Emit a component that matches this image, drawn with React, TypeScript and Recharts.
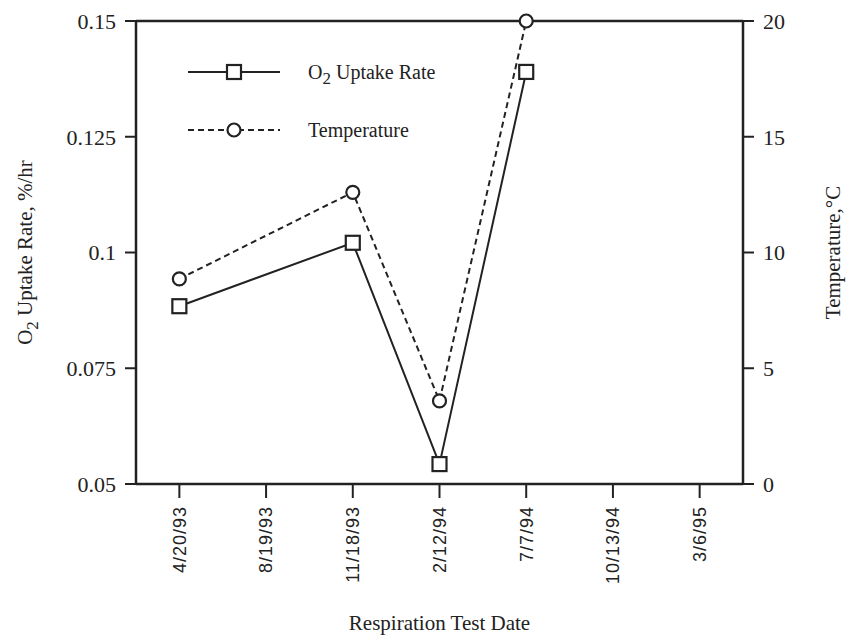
import React from 'react';
import { LineChart, Line, XAxis, YAxis, ReferenceLine, Customized } from 'recharts';

const tickDates = ['4/20/93', '8/19/93', '11/18/93', '2/12/94', '7/7/94', '10/13/94', '3/6/95'];
const sampleDates = ['4/20/93', '11/18/93', '2/12/94', '7/7/94'];
const o2Uptake = [0.0884, 0.1021, 0.0543, 0.139];
const temperature = [8.86, 12.6, 3.59, 20];
const leftTicks = [0.05, 0.075, 0.1, 0.125, 0.15];
const rightTicks = [0, 5, 10, 15, 20];

const data = sampleDates.map((d, i) => ({
  idx: tickDates.indexOf(d),
  date: d,
  o2: o2Uptake[i],
  temp: temperature[i],
}));

const INK = '#222';
const SERIF = '"Liberation Serif", "Times New Roman", serif';
const SANS = '"Liberation Sans", Arial, sans-serif';

const SquareDot = (props: any) => {
  const { cx, cy } = props;
  if (cx == null || cy == null) return null;
  return <rect x={cx - 7} y={cy - 7} width={14} height={14} fill="#fff" stroke={INK} strokeWidth={2.2} />;
};

const CircleDot = (props: any) => {
  const { cx, cy } = props;
  if (cx == null || cy == null) return null;
  return <circle cx={cx} cy={cy} r={6.5} fill="#fff" stroke={INK} strokeWidth={2.2} />;
};

const XTick = (props: any) => {
  const { x, y, payload } = props;
  const label = tickDates[payload.value] ?? '';
  return (
    <text
      x={x}
      y={y}
      transform={`rotate(-90, ${x}, ${y})`}
      textAnchor="end"
      dy="0.35em"
      fontFamily={SANS}
      fontSize={18}
      letterSpacing={1}
      fill={INK}
    >
      {label}
    </text>
  );
};

const LeftLabel = (props: any) => {
  const vb = props.viewBox || {};
  const cx = (vb.x ?? 0) + 25;
  const cy = (vb.y ?? 0) + (vb.height ?? 0) / 2;
  return (
    <text
      x={cx}
      y={cy}
      transform={`rotate(-90, ${cx}, ${cy})`}
      textAnchor="middle"
      dy="0.35em"
      fontFamily={SERIF}
      fontSize={21}
      fill={INK}
    >
      O<tspan dy={6} fontSize={17}>2</tspan>
      <tspan dy={-6}> Uptake Rate, %/hr</tspan>
    </text>
  );
};

const RightLabel = (props: any) => {
  const vb = props.viewBox || {};
  const cx = (vb.x ?? 0) + 90;
  const cy = (vb.y ?? 0) + (vb.height ?? 0) / 2;
  return (
    <text
      x={cx}
      y={cy}
      transform={`rotate(-90, ${cx}, ${cy})`}
      textAnchor="middle"
      dy="0.35em"
      fontFamily={SERIF}
      fontSize={21}
      fill={INK}
    >
      Temperature,°C
    </text>
  );
};

const BottomLabel = (props: any) => {
  const vb = props.viewBox || {};
  const cx = (vb.x ?? 0) + (vb.width ?? 0) / 2;
  return (
    <text x={cx} y={630} textAnchor="middle" fontFamily={SERIF} fontSize={21} fill={INK}>
      Respiration Test Date
    </text>
  );
};

const LegendSvg = () => (
  <g>
    <line x1={188} y1={72} x2={280} y2={72} stroke={INK} strokeWidth={2} />
    <rect x={227} y={65} width={14} height={14} fill="#fff" stroke={INK} strokeWidth={2.2} />
    <text x={308} y={79} fontFamily={SERIF} fontSize={20} fill={INK}>
      O<tspan dy={5} fontSize={17}>2</tspan>
      <tspan dy={-5}> Uptake Rate</tspan>
    </text>
    <line x1={188} y1={130} x2={280} y2={130} stroke={INK} strokeWidth={2} strokeDasharray="6 4" />
    <circle cx={234} cy={130} r={6.5} fill="#fff" stroke={INK} strokeWidth={2.2} />
    <text x={308} y={137} fontFamily={SERIF} fontSize={20} fill={INK}>
      Temperature
    </text>
  </g>
);

export default function App() {
  return (
    <div style={{ position: 'absolute', left: 0, top: 0, width: 847, height: 639, background: '#fff' }}>
      <LineChart width={847} height={639} data={data} margin={{ top: 21, right: 0, bottom: 0, left: 0 }}>
        <XAxis
          dataKey="idx"
          type="number"
          domain={[-0.5, 6.5]}
          ticks={[0, 1, 2, 3, 4, 5, 6]}
          height={155}
          stroke={INK}
          strokeWidth={2.5}
          tickSize={14}
          tickMargin={8}
          tickLine={{ stroke: INK, strokeWidth: 2 }}
          tick={<XTick />}
          interval={0}
          label={<BottomLabel />}
        />
        <YAxis
          yAxisId="left"
          orientation="left"
          domain={[0.05, 0.15]}
          ticks={leftTicks}
          width={136}
          stroke={INK}
          strokeWidth={2.5}
          tickSize={11}
          tickMargin={9}
          tickLine={{ stroke: INK, strokeWidth: 2 }}
          tick={{ fill: INK, fontFamily: SERIF, fontSize: 22 }}
          tickFormatter={(v: number) => String(v)}
          interval={0}
          label={<LeftLabel />}
        />
        <YAxis
          yAxisId="right"
          orientation="right"
          domain={[0, 20]}
          ticks={rightTicks}
          width={104}
          stroke={INK}
          strokeWidth={2.5}
          tickSize={11}
          tickMargin={9}
          tickLine={{ stroke: INK, strokeWidth: 2 }}
          tick={{ fill: INK, fontFamily: SERIF, fontSize: 22 }}
          interval={0}
          label={<RightLabel />}
        />
        <ReferenceLine yAxisId="left" y={0.15} stroke={INK} strokeWidth={2.5} />
        <Line
          yAxisId="left"
          dataKey="o2"
          stroke={INK}
          strokeWidth={2}
          dot={<SquareDot />}
          activeDot={false}
          isAnimationActive={false}
        />
        <Line
          yAxisId="right"
          dataKey="temp"
          stroke={INK}
          strokeWidth={2}
          strokeDasharray="6 4"
          dot={<CircleDot />}
          activeDot={false}
          isAnimationActive={false}
        />
        <Customized component={LegendSvg} />
      </LineChart>
    </div>
  );
}
